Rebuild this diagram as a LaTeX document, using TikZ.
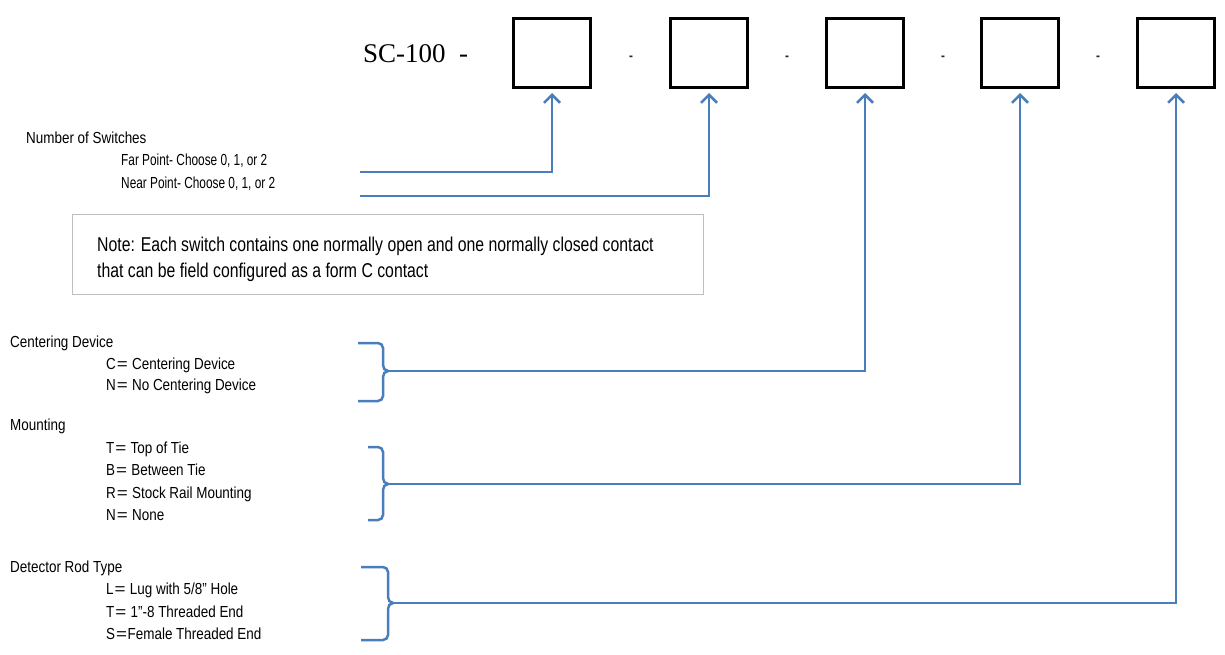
\documentclass[tikz,border=0pt]{standalone}
\usepackage{fontspec}
\setmainfont{Liberation Sans}[FakeStretch=0.84]
\newfontfamily\notefont{Liberation Sans}[FakeStretch=0.79]
\newfontfamily\narrowfont{Liberation Sans}[FakeStretch=0.74]
\newfontfamily\tnr{Liberation Serif}
\usetikzlibrary{arrows.meta}
\definecolor{lineblue}{RGB}{74,126,187}
\definecolor{notegray}{RGB}{191,191,191}
\newcommand{\eq}{\kern0.5pt\makebox[12pt]{\scalebox{1.4}[1]{=}}}
\newcommand{\mybrace}[5]{% x0, xv, ytop, ymid, ybot
  \draw[conn] (#1,#3) -- ({#2-5},#3) to[out=0,in=90] (#2,{#3+5}) -- (#2,{#4-6})
    to[out=-90,in=180] ({#2+5},#4) to[out=180,in=90] (#2,{#4+6}) -- (#2,{#5-5})
    to[out=-90,in=0] ({#2-5},#5) -- (#1,#5);}
\begin{document}
\begin{tikzpicture}[x=1pt,y=-1pt,
  box/.style={draw, line width=3pt, minimum width=77pt, minimum height=69pt, inner sep=0pt},
  lbl/.style={anchor=base west, inner sep=0pt, font=\fontsize{16}{19}\selectfont},
  sublbl/.style={lbl, font=\narrowfont\fontsize{16}{19}\selectfont},
  notetxt/.style={anchor=base west, inner sep=0pt, font=\notefont\fontsize{20}{26}\selectfont},
  dashc/.style={anchor=base, inner sep=0pt, text=black!85, font=\fontsize{14}{14}\selectfont\bfseries},
  conn/.style={draw=lineblue, line width=2.5pt},
  arr/.style={conn, -{Straight Barb[length=8pt,width=16pt]}, shorten >=4pt}]
\useasboundingbox (0,0) rectangle (1225,655);

% title and boxes
\node[anchor=base west, inner sep=0pt, font=\tnr\fontsize{27}{27}\selectfont] (sc) at (363,63) {SC-100~~-};
\node[box] (b1) at (552,53) {};
\node[box] (b2) at (709,53) {};
\node[box] (b3) at (865,53) {};
\node[box] (b4) at (1020,53) {};
\node[box] (b5) at (1176,53) {};
\node[dashc] (d1) at (631,61) {-};
\node[dashc] (d2) at (787,61) {-};
\node[dashc] (d3) at (943,61) {-};
\node[dashc] (d4) at (1098,61) {-};

% number of switches
\node[lbl] (ns) at (26,144) {Number of Switches};
\node[sublbl] (fp) at (121,166) {Far Point- Choose 0, 1, or 2};
\node[sublbl] (np) at (121,189) {Near Point- Choose 0, 1, or 2};
\coordinate (fpc) at (360,172);
\coordinate (npc) at (360,196);
\draw[arr] (fpc) -| (b1.south);
\draw[arr] (npc) -| (b2.south);

% note
\node[draw=notegray, line width=1.3pt, anchor=north west, minimum width=631pt, minimum height=80pt, inner sep=0pt] (note) at (71.5,213.5) {};
\node[notetxt] (n1) at (97,251) {Note: Each switch contains one normally open and one normally closed contact};
\node[notetxt] (n2) at (97,277) {that can be field configured as a form C contact};

% centering device
\node[lbl] (cd) at (10,347) {Centering Device};
\node[lbl] (cd1) at (106,369) {C\eq\ Centering Device};
\node[lbl] (cd2) at (106,390) {N\eq\ No Centering Device};
\mybrace{358}{383}{343}{371}{401}
\coordinate (cdt) at (388,371);
\draw[arr] (cdt) -| (b3.south);

% mounting
\node[lbl] (mt) at (10,430) {Mounting};
\node[lbl] (mt1) at (106,453) {T\eq\ Top of Tie};
\node[lbl] (mt2) at (106,475) {B\eq\ Between Tie};
\node[lbl] (mt3) at (106,498) {R\eq\ Stock Rail Mounting};
\node[lbl] (mt4) at (106,520) {N\eq\ None};
\mybrace{368}{383}{447}{484}{520}
\coordinate (mtt) at (388,484);
\draw[arr] (mtt) -| (b4.south);

% detector rod type
\node[lbl] (dr) at (10,572) {Detector Rod Type};
\node[lbl] (dr1) at (106,594) {L\eq\ Lug with 5/8” Hole};
\node[lbl] (dr2) at (106,617) {T\eq\ 1”-8 Threaded End};
\node[lbl] (dr3) at (106,639) {S\eq Female Threaded End};
\mybrace{361}{388}{567}{603}{640}
\coordinate (drt) at (393,603);
\draw[arr] (drt) -| (b5.south);
\end{tikzpicture}
\end{document}
